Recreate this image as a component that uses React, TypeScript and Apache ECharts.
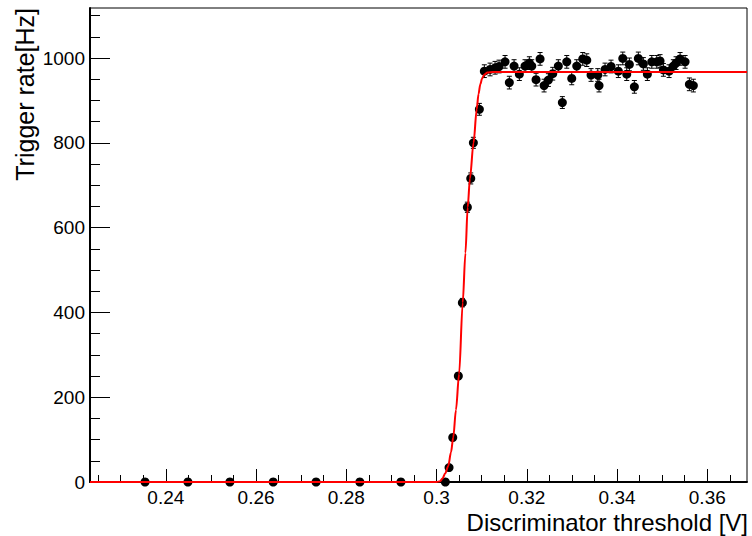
import React, { useEffect, useRef } from "react";
import * as echarts from "echarts";

// Threshold scan: discriminator threshold [V] vs. trigger rate [Hz]
const thresholds = [
  0.2354, 0.2449, 0.2542, 0.2638, 0.2733, 0.283, 0.2921,
  0.30195, 0.30277, 0.30359, 0.30483, 0.30572, 0.30683, 0.30758, 0.30816, 0.30949,
  0.31059, 0.31186, 0.31297, 0.31385, 0.31518, 0.31613, 0.31718, 0.31835, 0.31961, 0.32057,
  0.3211, 0.32205, 0.32294, 0.32383, 0.32478, 0.32575, 0.32699, 0.32788, 0.32886, 0.32996,
  0.33107, 0.3324, 0.33329, 0.33424, 0.33573, 0.33601, 0.33734, 0.33867, 0.34029, 0.34127,
  0.34215, 0.34273, 0.34384, 0.34472, 0.34583, 0.34672, 0.3477, 0.3488, 0.34953, 0.35027,
  0.35153, 0.35248, 0.35308, 0.35397, 0.35508, 0.35603, 0.35691,
];
const rates = [
  0, 0, 0, 0, 0, 0, 0,
  0, 34, 105, 250, 423, 648, 716, 800, 879,
  969, 973, 977, 980, 991, 942, 981, 962, 981, 988,
  981, 949, 998, 935, 948, 963, 981, 895, 991, 952,
  981, 998, 995, 960, 960, 935, 973, 980, 969, 999,
  962, 985, 932, 999, 986, 962, 991, 991, 993, 972,
  969, 981, 988, 998, 991, 938, 935,
];
const rateErrors = [
  0, 0, 0, 0, 0, 0, 0,
  0, 3, 5, 8, 10, 12, 13, 13, 14,
  15, 15, 15, 15, 15, 15, 15, 15, 15, 15,
  15, 15, 15, 15, 15, 15, 15, 14, 15, 15,
  15, 15, 15, 15, 15, 15, 15, 15, 15, 15,
  15, 15, 15, 15, 15, 15, 15, 15, 15, 15,
  15, 15, 15, 15, 15, 15, 15,
];

// Fitted turn-on curve (sampled)
const fitX = [
  0.2232, 0.3, 0.3008, 0.3013, 0.3019, 0.3026, 0.3032, 0.3037, 0.3043, 0.305, 0.3058,
  0.3064, 0.3069, 0.3074, 0.3082, 0.3089, 0.3093, 0.3097, 0.3101, 0.3106, 0.3113, 0.3125, 0.3688,
];
const fitY = [
  0, 0, 2, 8, 20, 38, 70, 105, 170, 255, 423,
  540, 648, 716, 800, 879, 915, 938, 952, 961, 966, 967, 967,
];

// Axis ranges and ticks
const X_MIN = 0.2232;
const X_MAX = 0.3688;
const Y_MIN = 0;
const Y_MAX = 1118;
const xMajorTicks = [0.24, 0.26, 0.28, 0.3, 0.32, 0.34, 0.36];
const xMinorTicks = [
  0.225, 0.23, 0.235, 0.245, 0.25, 0.255, 0.265, 0.27, 0.275, 0.285, 0.29, 0.295,
  0.305, 0.31, 0.315, 0.325, 0.33, 0.335, 0.345, 0.35, 0.355, 0.365,
];
const yMajorTicks = [0, 200, 400, 600, 800, 1000];
const yMinorTicks = [50, 100, 150, 250, 300, 350, 450, 500, 550, 650, 700, 750, 850, 900, 950, 1050, 1100];

const FONT = "'Liberation Sans', Arial, Helvetica, sans-serif";

export default function App() {
  const ref = useRef<HTMLDivElement>(null);

  useEffect(() => {
    if (!ref.current) return;
    const chart = echarts.init(ref.current, undefined, { renderer: "svg" });

    const points = thresholds.map((x, i) => [x, rates[i]]);
    const errs = thresholds.map((x, i) => [x, rates[i], rateErrors[i]]);
    const fit = fitX.map((x, i) => [x, fitY[i]]);

    const fmt = (v: number) => String(+v.toFixed(3));

    const option: any = {
      animation: false,
      backgroundColor: "#ffffff",
      grid: {
        left: 90,
        right: 5,
        top: 8,
        bottom: 54,
        show: true,
        borderColor: "#000",
        borderWidth: 1,
        backgroundColor: "transparent",
      },
      xAxis: [
        {
          type: "value",
          min: X_MIN,
          max: X_MAX,
          axisLine: { show: true, onZero: false, lineStyle: { color: "#000", width: 2 } },
          axisTick: {
            show: true,
            inside: true,
            length: 13,
            customValues: xMajorTicks,
            lineStyle: { color: "#000", width: 1 },
          },
          axisLabel: {
            show: true,
            customValues: xMajorTicks,
            formatter: fmt,
            color: "#000",
            fontSize: 19,
            fontFamily: FONT,
            margin: 6,
          },
          splitLine: { show: false },
        },
        {
          type: "value",
          min: X_MIN,
          max: X_MAX,
          position: "bottom",
          axisLine: { show: false },
          axisTick: {
            show: true,
            inside: true,
            length: 7,
            customValues: xMinorTicks,
            lineStyle: { color: "#000", width: 1 },
          },
          axisLabel: { show: false },
          splitLine: { show: false },
        },
      ],
      yAxis: [
        {
          type: "value",
          min: Y_MIN,
          max: Y_MAX,
          axisLine: { show: true, onZero: false, lineStyle: { color: "#000", width: 2 } },
          axisTick: {
            show: true,
            inside: true,
            length: 20,
            customValues: yMajorTicks,
            lineStyle: { color: "#000", width: 1 },
          },
          axisLabel: {
            show: true,
            customValues: yMajorTicks,
            formatter: (v: number) => String(v),
            color: "#000",
            fontSize: 19,
            fontFamily: FONT,
            margin: 5,
          },
          splitLine: { show: false },
        },
        {
          type: "value",
          min: Y_MIN,
          max: Y_MAX,
          position: "left",
          axisLine: { show: false },
          axisTick: {
            show: true,
            inside: true,
            length: 10,
            customValues: yMinorTicks,
            lineStyle: { color: "#000", width: 1 },
          },
          axisLabel: { show: false },
          splitLine: { show: false },
        },
      ],
      series: [
        {
          name: "errors",
          type: "custom",
          xAxisIndex: 0,
          yAxisIndex: 0,
          data: errs,
          encode: { x: 0, y: 1 },
          z: 2,
          renderItem: (params: any, api: any) => {
            const x = api.value(0);
            const y = api.value(1);
            const e = api.value(2);
            if (!e) return null;
            const top = api.coord([x, y + e]);
            const bot = api.coord([x, y - e]);
            const cap = 2.5;
            const style = { stroke: "#000", lineWidth: 1 };
            return {
              type: "group",
              children: [
                { type: "line", shape: { x1: top[0], y1: top[1], x2: bot[0], y2: bot[1] }, style },
                { type: "line", shape: { x1: top[0] - cap, y1: top[1], x2: top[0] + cap, y2: top[1] }, style },
                { type: "line", shape: { x1: bot[0] - cap, y1: bot[1], x2: bot[0] + cap, y2: bot[1] }, style },
              ],
            };
          },
        },
        {
          name: "rate",
          type: "scatter",
          xAxisIndex: 0,
          yAxisIndex: 0,
          data: points,
          symbol: "circle",
          symbolSize: 9,
          itemStyle: { color: "#000", opacity: 1 },
          z: 3,
        },
        {
          name: "fit",
          type: "line",
          xAxisIndex: 0,
          yAxisIndex: 0,
          data: fit,
          showSymbol: false,
          smooth: 0.3,
          smoothMonotone: "x",
          lineStyle: { color: "#ff0000", width: 2 },
          z: 4,
        },
      ],
      graphic: [
        {
          type: "text",
          x: 25,
          y: 8,
          rotation: Math.PI / 2,
          style: {
            text: "Trigger rate[Hz]",
            fill: "#000",
            font: `25px ${FONT}`,
            align: "right",
            verticalAlign: "middle",
          },
        },
        {
          type: "text",
          x: 748,
          y: 522,
          style: {
            text: "Discriminator threshold [V]",
            fill: "#000",
            font: `24px ${FONT}`,
            align: "right",
            verticalAlign: "middle",
          },
        },
      ],
    };

    chart.setOption(option);
    return () => chart.dispose();
  }, []);

  return (
    <div
      ref={ref}
      style={{ position: "fixed", left: 0, top: 0, width: 752, height: 536 }}
    />
  );
}
